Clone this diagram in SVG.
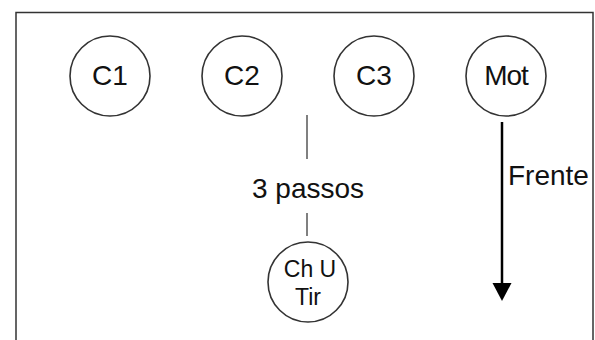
<svg xmlns="http://www.w3.org/2000/svg" width="595" height="340" viewBox="0 0 595 340">
<style>
.node circle{fill:#fff;stroke:#333;stroke-width:1.6}
.lbl{font-family:"Liberation Sans",Arial,sans-serif;font-size:28px;fill:#111;text-anchor:middle}
.sm{font-size:23px}
</style>
<defs>
<marker id="ah" markerWidth="10" markerHeight="9" refX="10" refY="4.5" orient="auto" markerUnits="userSpaceOnUse" viewBox="0 0 10 9">
<path d="M0,0 L10,4.5 L0,9 Z" fill="#000"/>
</marker>
</defs>
<rect x="16" y="12.5" width="577" height="340" fill="#fff" stroke="#333" stroke-width="1.5"/>
<g id="connectors">
<line x1="307" y1="115" x2="307" y2="159" stroke="#808080" stroke-width="2"/>
<line x1="307" y1="213" x2="307" y2="236" stroke="#808080" stroke-width="2"/>
<text class="lbl" x="308" y="198">3 passos</text>
<line x1="502" y1="122" x2="502" y2="284" stroke="#000" stroke-width="2.5"/>
<path d="M492.5,283 L511.5,283 L502,301 Z" fill="#000"/>
<text class="lbl" x="508" y="185" style="text-anchor:start">Frente</text>
</g>
<g id="C1" class="node"><circle cx="110" cy="76" r="40"/><text class="lbl" x="110" y="85">C1</text></g>
<g id="C2" class="node"><circle cx="242" cy="76" r="40"/><text class="lbl" x="242" y="85">C2</text></g>
<g id="C3" class="node"><circle cx="374" cy="76" r="40"/><text class="lbl" x="374" y="85">C3</text></g>
<g id="Mot" class="node"><circle cx="506" cy="76" r="40"/><text class="lbl" x="506" y="85" letter-spacing="-1">Mot</text></g>
<g id="ChUTir" class="node"><circle cx="308" cy="282" r="40"/><text class="lbl sm" x="310" y="277">Ch U</text><text class="lbl sm" x="308" y="305">Tir</text></g>
</svg>
